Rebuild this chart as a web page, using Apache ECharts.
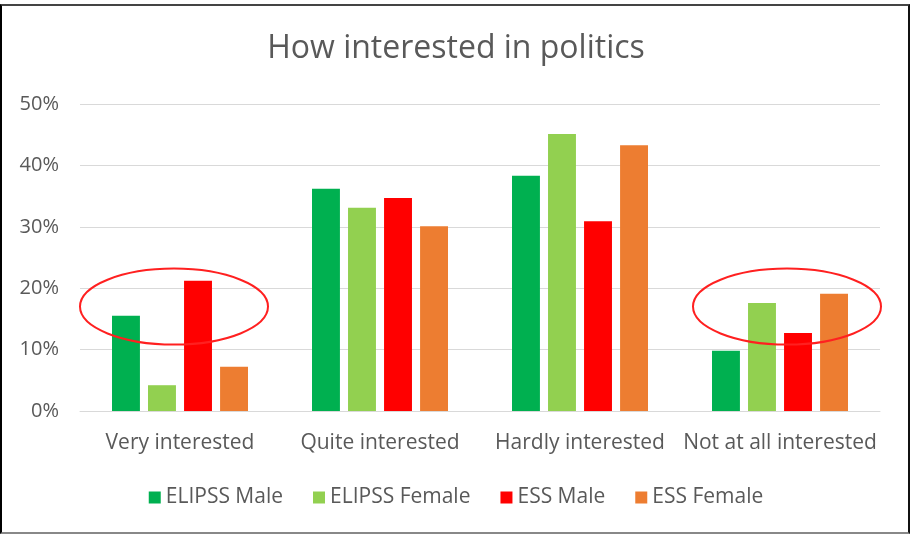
<!DOCTYPE html>
<html lang="en">
<head>
    <meta charset="UTF-8">
    <script src="https://cdn.jsdelivr.net/npm/echarts@6/dist/echarts.min.js"></script>
    <title>How interested in politics</title>
    <style>
        body { margin: 0; background: #fff; }
        #frame { position: absolute; left: 0; top: 4px; width: 906px; height: 526px;
                 border-left: 2px solid #000; border-right: 2px solid #111;
                 border-top: 2px solid #444; border-bottom: 2px solid #888; }
        #chart { position: absolute; left: 0; top: 0; width: 912px; height: 534px; }
    </style>
</head>
<body>
    <div id="frame"></div>
    <div id="chart"></div>
    <script>
        var categories = ['Very interested', 'Quite interested', 'Hardly interested', 'Not at all interested'];
        var elipssMale = [15.5, 36.2, 38.3, 9.8];
        var elipssFemale = [4.2, 33.1, 45.1, 17.6];
        var essMale = [21.2, 34.7, 30.9, 12.7];
        var essFemale = [7.2, 30.1, 43.3, 19.1];
        var yTicks = [0, 10, 20, 30, 40, 50];
        // highlighted categories (ellipse annotations)
        var highlighted = [0, 3];

        var font = '"Open Sans", sans-serif';
        var textColor = '#595959';

        var chart = echarts.init(document.getElementById('chart'));

        function barSeries(name, data, color) {
            return {
                name: name,
                type: 'bar',
                data: data,
                barGap: '29%',
                barCategoryGap: '32%',
                itemStyle: { color: color },
                emphasis: { disabled: true }
            };
        }

        chart.setOption({
            animation: false,
            title: {
                text: 'How interested in politics',
                left: 'center',
                top: 28,
                textStyle: { fontFamily: font, fontSize: 32, fontWeight: 'normal', color: textColor }
            },
            legend: {
                bottom: 21,
                left: 'center',
                itemWidth: 12,
                itemHeight: 12,
                itemGap: 30,
                icon: 'rect',
                textStyle: { fontFamily: font, fontSize: 21, color: textColor }
            },
            grid: { left: 80, right: 32, top: 104, bottom: 123 },
            xAxis: {
                type: 'category',
                data: categories,
                axisTick: { show: false },
                axisLine: { lineStyle: { color: '#d9d9d9', width: 1 } },
                axisLabel: { interval: 0, fontFamily: font, fontSize: 21, color: textColor, margin: 22 }
            },
            yAxis: {
                type: 'value',
                min: yTicks[0],
                max: yTicks[yTicks.length - 1],
                interval: 10,
                axisLabel: { formatter: '{value}%', fontFamily: font, fontSize: 20, color: textColor, margin: 21 },
                splitLine: { lineStyle: { color: '#d9d9d9', width: 1 } }
            },
            series: [
                barSeries('ELIPSS Male', elipssMale, '#00b050'),
                barSeries('ELIPSS Female', elipssFemale, '#92d050'),
                barSeries('ESS Male', essMale, '#ff0000'),
                barSeries('ESS Female', essFemale, '#ed7d31')
            ]
        });

        // red ellipses around the highlighted categories, placed via the axes
        // (hand-drawn in the original, so slightly off-centre)
        var nudge = [-6, 7];
        var shapes = highlighted.map(function (idx, i) {
            var c = chart.convertToPixel({ gridIndex: 0 }, [idx, 17]);
            return {
                type: 'ellipse',
                shape: { cx: c[0] + nudge[i], cy: c[1], rx: 94, ry: 38 },
                style: { fill: 'none', stroke: '#ff2020', lineWidth: 2 },
                z: 100
            };
        });
        chart.setOption({ graphic: shapes });
    </script>
</body>
</html>
